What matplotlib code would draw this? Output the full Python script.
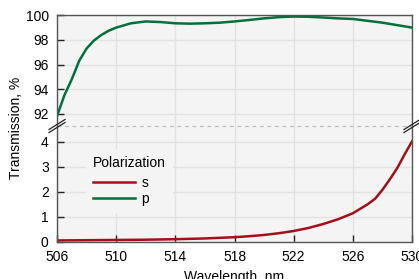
import matplotlib
matplotlib.use("Agg")
import matplotlib.pyplot as plt
from matplotlib.lines import Line2D

plt.rcParams['font.family'] = ['Liberation Sans', 'DejaVu Sans']
plt.rcParams['font.size'] = 10

# data
wl_p = [506, 506.5, 507, 507.5, 508, 508.5, 509, 509.5, 510, 511, 512, 513, 514,
        515, 516, 517, 518, 519, 520, 521, 522, 523, 524, 525, 526, 527, 528, 529, 530]
trans_p = [91.8, 93.5, 94.8, 96.3, 97.3, 97.95, 98.4, 98.75, 99.0, 99.35, 99.5, 99.45, 99.35,
           99.32, 99.35, 99.4, 99.5, 99.62, 99.75, 99.85, 99.9, 99.88, 99.82, 99.75, 99.7,
           99.55, 99.4, 99.2, 99.0]

wl_s = [506, 508, 510, 512, 514, 516, 518, 519, 520, 521, 522, 523, 524, 525, 526,
        526.5, 527, 527.5, 528, 528.5, 529, 529.5, 530]
trans_s = [0.05, 0.06, 0.07, 0.08, 0.1, 0.13, 0.18, 0.22, 0.27, 0.34, 0.43, 0.55, 0.71,
           0.9, 1.14, 1.32, 1.5, 1.72, 2.08, 2.5, 2.95, 3.5, 4.02]

x_ticks = [506, 510, 514, 518, 522, 526, 530]
top_ticks = [92, 94, 96, 98, 100]
bottom_ticks = [0, 1, 2, 3, 4]

red = '#a50f1a'
green = '#00703c'
bg = '#f4f4f4'
grid_c = '#e2e2e2'
spine_c = '#555555'

W, H = 419, 279
fig = plt.figure(figsize=(W / 100, H / 100), dpi=100)

left, right = 57 / W, 412 / W
y_top, y_break, y_zero = 15.3, 126, 241.7
ax_top = fig.add_axes([left, 1 - y_break / H, right - left, (y_break - y_top) / H])
ax_bot = fig.add_axes([left, 1 - y_zero / H, right - left, (y_zero - y_break) / H], sharex=ax_top)

for ax in (ax_top, ax_bot):
    ax.set_facecolor(bg)
    ax.grid(True, color=grid_c, linewidth=1)
    ax.set_axisbelow(True)
    for sp in ax.spines.values():
        sp.set_color(spine_c)
        sp.set_linewidth(1)
    ax.tick_params(direction='in', length=5, width=1, color='#222222', labelsize=10, pad=6)
    ax.plot(wl_s, trans_s, color=red, lw=1.8, label='s')
    ax.plot(wl_p, trans_p, color=green, lw=1.8, label='p')

ax_top.set_ylim(91, 100)
ax_top.set_yticks(top_ticks)
ax_top.spines['bottom'].set_visible(False)
ax_top.tick_params(axis='x', bottom=False, labelbottom=False)

ax_bot.set_ylim(0, 4.64)
ax_bot.set_yticks(bottom_ticks)
ax_bot.spines['top'].set_visible(False)
ax_bot.set_xlim(506, 530)
ax_bot.set_xticks(x_ticks)
ax_bot.set_xlabel('Wavelength, nm', fontsize=10, labelpad=4)

# dashed line at the break
yb = 1 - y_break / H
fig.add_artist(Line2D([left, right], [yb, yb], color='#bdbdbd', lw=0.9,
                      linestyle=(0, (3, 3))))
# break marks
for xc in (left, right):
    for dy in (-1.5, 1.5):
        fig.add_artist(Line2D([xc - 8 / W, xc + 8 / W],
                              [yb - (dy + 5) / H, yb - (dy - 5) / H],
                              color='#222222', lw=0.9))

fig.text(16 / W, 1 - 128 / H, 'Transmission, %', rotation=90, ha='center', va='center',
         fontsize=10)

leg = ax_bot.legend(title='Polarization', loc='upper left', bbox_to_anchor=(0.062, 0.86),
                    frameon=True, facecolor=bg, edgecolor='none', framealpha=1,
                    handlelength=3.0, fontsize=10, title_fontsize=10, alignment='left',
                    borderpad=0.5, labelspacing=0.15, handletextpad=0.5)
leg._legend_box.sep = 4  # a bit more room under the title

fig.savefig('out.png', dpi=100)
